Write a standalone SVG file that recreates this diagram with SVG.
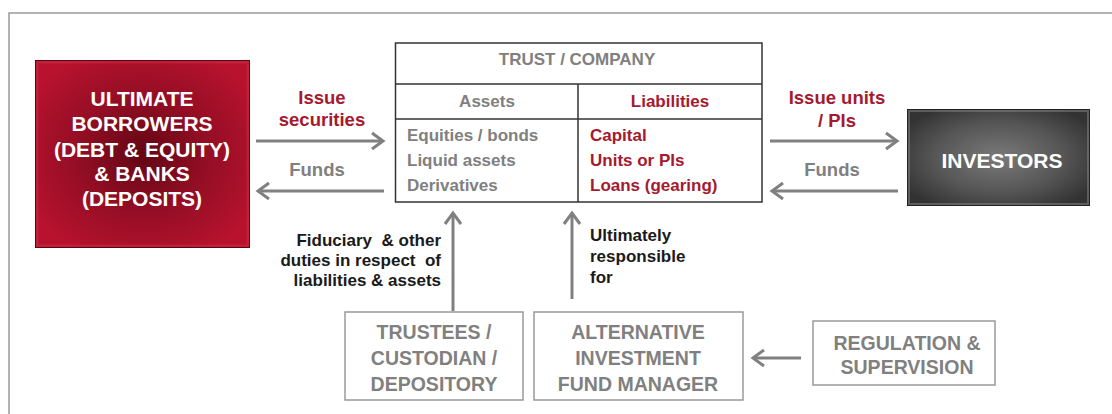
<svg xmlns="http://www.w3.org/2000/svg" width="1112" height="414" viewBox="0 0 1112 414">
<style>
text{font-family:"Liberation Sans",Arial,sans-serif;font-weight:bold;dominant-baseline:central}
.w{fill:#fff;font-size:21px;text-anchor:middle}
.g{fill:#808080}
.r{fill:#A6192E}
.k{fill:#1a1a1a}
.lbl{font-size:18.5px;text-anchor:middle}
.tb{font-size:17px}
.box{fill:#fff;stroke:#999;stroke-width:1.5}
.bt{fill:#808080;font-size:19.5px;text-anchor:middle}
.ln{stroke:#333;stroke-width:1.5;fill:none}
.ar{stroke:#808080;stroke-width:3;fill:none;marker-end:url(#ah)}
.note{font-size:17px}
</style>
<defs>
<marker id="ah" markerUnits="userSpaceOnUse" markerWidth="20" markerHeight="20" viewBox="-12 -10 14 20" refX="0" refY="0" orient="auto">
<path d="M-11,-8 L0,0 L-11,8" fill="none" stroke="#808080" stroke-width="3"/>
</marker>
<radialGradient id="redg" cx="0.5" cy="0.5" r="0.6">
<stop offset="0" stop-color="#620614"/>
<stop offset="0.5" stop-color="#930e24"/>
<stop offset="1" stop-color="#b8122e"/>
</radialGradient>
<radialGradient id="greyg" cx="0.5" cy="0.5" r="0.6">
<stop offset="0" stop-color="#7a7a7a"/>
<stop offset="0.6" stop-color="#555"/>
<stop offset="1" stop-color="#333"/>
</radialGradient>
</defs>
<rect x="9" y="13" width="1120" height="420" fill="none" stroke="#999" stroke-width="1.5"/>

<g id="borrowers">
<rect x="35" y="60" width="215" height="188" fill="url(#redg)"/>
<rect x="37" y="62" width="211" height="184" fill="none" stroke="#c8283f" stroke-width="3" opacity="0.6"/>
<rect x="35.5" y="60.5" width="214" height="187" fill="none" stroke="#5a0512" stroke-width="1"/>
<text class="w" x="142" y="98">ULTIMATE</text>
<text class="w" x="142" y="123">BORROWERS</text>
<text class="w" x="142" y="149">(DEBT &amp; EQUITY)</text>
<text class="w" x="142" y="173">&amp; BANKS</text>
<text class="w" x="142" y="198">(DEPOSITS)</text>
</g>

<g id="trust">
<rect x="395.5" y="43" width="366.5" height="159" fill="#fff" class="ln"/>
<line class="ln" x1="395.5" y1="84" x2="762" y2="84"/>
<line class="ln" x1="395.5" y1="119" x2="762" y2="119"/>
<line class="ln" x1="578" y1="84" x2="578" y2="202"/>
<text class="g tb" x="577" y="59" text-anchor="middle">TRUST / COMPANY</text>
<text class="g tb" x="487" y="101" text-anchor="middle">Assets</text>
<text class="r tb" x="670" y="101" text-anchor="middle">Liabilities</text>
<text class="g tb" x="407" y="135">Equities / bonds</text>
<text class="g tb" x="407" y="160">Liquid assets</text>
<text class="g tb" x="407" y="185">Derivatives</text>
<text class="r tb" x="590" y="135">Capital</text>
<text class="r tb" x="590" y="160">Units or PIs</text>
<text class="r tb" x="590" y="185">Loans (gearing)</text>
</g>

<g id="investors">
<rect x="907" y="109" width="183" height="97" fill="url(#greyg)"/>
<rect x="909" y="111" width="179" height="93" fill="none" stroke="#888" stroke-width="2" opacity="0.5"/>
<rect x="907.5" y="109.5" width="182" height="96" fill="none" stroke="#222" stroke-width="1"/>
<text class="w" x="1002" y="160">INVESTORS</text>
</g>

<g id="trustees">
<rect class="box" x="345" y="312" width="178" height="88"/>
<text class="bt" x="434" y="332">TRUSTEES /</text>
<text class="bt" x="434" y="358">CUSTODIAN /</text>
<text class="bt" x="434" y="384">DEPOSITORY</text>
</g>

<g id="aifm">
<rect class="box" x="534" y="312" width="209" height="88"/>
<text class="bt" x="638" y="332">ALTERNATIVE</text>
<text class="bt" x="638" y="358">INVESTMENT</text>
<text class="bt" x="638" y="384">FUND MANAGER</text>
</g>

<g id="regulation">
<rect class="box" x="813" y="321" width="182" height="64"/>
<text class="bt" x="907" y="343">REGULATION &amp;</text>
<text class="bt" x="907" y="367">SUPERVISION</text>
</g>

<g id="connectors">
<line class="ar" x1="256" y1="141" x2="383" y2="141"/>
<line class="ar" x1="384" y1="191" x2="258" y2="191"/>
<line class="ar" x1="770" y1="141" x2="897" y2="141"/>
<line class="ar" x1="898" y1="191" x2="772" y2="191"/>
<line class="ar" x1="453" y1="311" x2="453" y2="213"/>
<line class="ar" x1="572" y1="299" x2="572" y2="213"/>
<line class="ar" x1="801" y1="358" x2="753" y2="358"/>
<text class="r lbl" x="322" y="97">Issue</text>
<text class="r lbl" x="322" y="119">securities</text>
<text class="g lbl" x="317" y="169">Funds</text>
<text class="r lbl" x="837" y="97">Issue units</text>
<text class="r lbl" x="837" y="120">/ PIs</text>
<text class="g lbl" x="832" y="169">Funds</text>
<text class="k note" x="441" y="240" text-anchor="end" xml:space="preserve">Fiduciary  &amp; other</text>
<text class="k note" x="441" y="260" text-anchor="end" xml:space="preserve">duties in respect  of</text>
<text class="k note" x="441" y="280" text-anchor="end">liabilities &amp; assets</text>
<text class="k note" x="590" y="235">Ultimately</text>
<text class="k note" x="590" y="256">responsible</text>
<text class="k note" x="590" y="277">for</text>
</g>
</svg>
